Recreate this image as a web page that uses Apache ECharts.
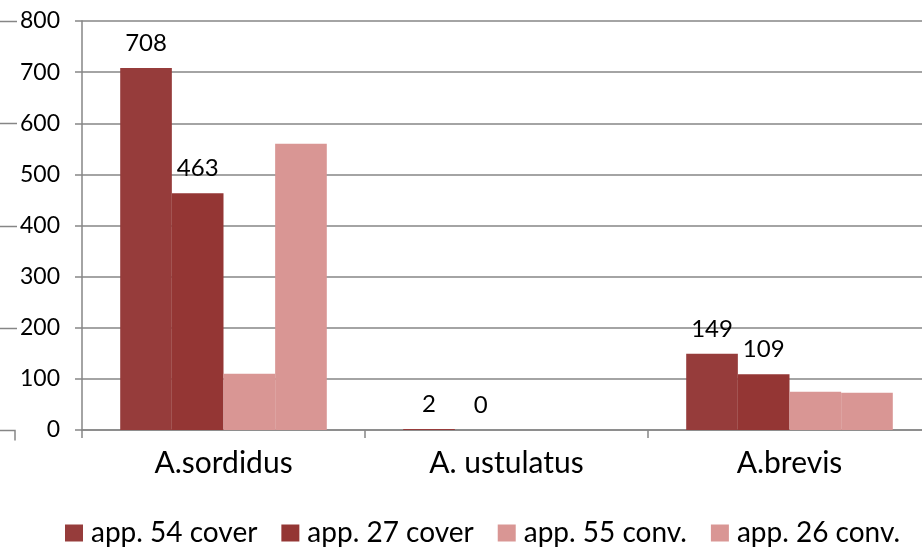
<!DOCTYPE html>
<html>
<head>
<meta charset="utf-8">
<script src="https://cdn.jsdelivr.net/npm/echarts@6/dist/echarts.min.js"></script>
<style>
  html, body { margin: 0; padding: 0; background: #fff; }
  #chart { width: 922px; height: 547px; }
</style>
</head>
<body>
<div id="chart"></div>
<script>
// Species on the category axis
const categories = ['A.sordidus', 'A. ustulatus', 'A.brevis'];
// Series names and their counts per species
const seriesNames = ['app. 54 cover', 'app. 27 cover', 'app. 55 conv.', 'app. 26 conv.'];
const app54cover = [708, 2, 149];
const app27cover = [463, 0, 109];
const app55conv = [110, 0, 75];
const app26conv = [560, 0, 73];
const yTicks = [0, 100, 200, 300, 400, 500, 600, 700, 800];

const seriesValues = [app54cover, app27cover, app55conv, app26conv];
const colors = ['#963c3b', '#943634', '#d99694', '#d99694'];
const labelled = [true, true, false, false];

const FONT = 'Lato';
const chart = echarts.init(document.getElementById('chart'));

const option = {
  animation: false,
  textStyle: { fontFamily: FONT, color: '#000' },
  // plot area runs a little past the right edge of the canvas
  grid: { left: 82, width: 849, top: 21, bottom: 117, containLabel: false, outerBoundsMode: 'none' },
  legend: {
    data: seriesNames,
    left: 60,
    bottom: -5,
    itemWidth: 18,
    itemHeight: 17,
    itemGap: 24,
    icon: 'rect',
    textStyle: { fontFamily: FONT, fontSize: 28, color: '#000', padding: [0, 0, 0, 3] }
  },
  xAxis: {
    type: 'category',
    data: categories,
    axisLine: { lineStyle: { color: '#868686', width: 1.5 } },
    axisTick: { show: true, length: 8, lineStyle: { color: '#868686', width: 1.5 } },
    axisLabel: { fontFamily: FONT, fontSize: 30, color: '#000', margin: 18 }
  },
  yAxis: {
    type: 'value',
    min: yTicks[0],
    max: yTicks[yTicks.length - 1],
    interval: 100,
    axisLine: { show: true, lineStyle: { color: '#868686', width: 1.5 } },
    axisTick: { show: true, length: 7, lineStyle: { color: '#868686', width: 1.5 } },
    axisLabel: { fontFamily: FONT, fontSize: 23, color: '#000', margin: 22 },
    splitLine: { lineStyle: { color: '#868686', width: 1.5 } }
  },
  series: seriesNames.map((name, i) => ({
    name: name,
    type: 'bar',
    data: seriesValues[i],
    barGap: '0%',
    barCategoryGap: '27%',
    itemStyle: { color: colors[i], borderWidth: 0 },
    label: {
      show: labelled[i],
      position: 'top',
      distance: 13,
      fontFamily: FONT,
      fontSize: 24,
      color: '#000'
    }
  }))
};
chart.setOption(option);

// Short tick strokes along the left edge, placed at the axis values
const edgeMarks = [];
[200, 400, 600, 800].forEach(v => {
  const y = Math.round(chart.convertToPixel({ yAxisIndex: 0 }, v)) + 0.5;
  edgeMarks.push({ type: 'line', shape: { x1: 0, y1: y, x2: 17, y2: y },
    style: { stroke: '#868686', lineWidth: 1.5 }, silent: true });
});
const y0 = Math.round(chart.convertToPixel({ yAxisIndex: 0 }, 0)) + 0.5;
edgeMarks.push({ type: 'polyline', shape: { points: [[0, y0], [15, y0], [15, y0 + 10]] },
  style: { stroke: '#868686', lineWidth: 1.5, fill: null }, silent: true });
chart.setOption({ graphic: edgeMarks });
</script>
</body>
</html>
